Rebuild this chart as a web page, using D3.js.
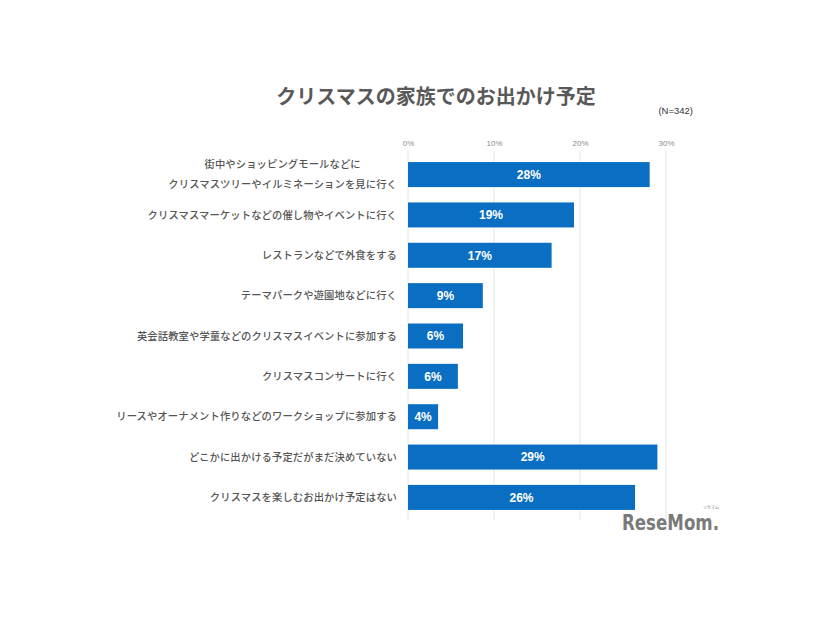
<!DOCTYPE html>
<html><head><meta charset="utf-8">
<script src="https://cdn.jsdelivr.net/npm/d3@7"></script>
<style>body{margin:0;background:#fff}svg{display:block}</style>
</head><body>
<script>
const categories = [
  ["街中やショッピングモールなどに","クリスマスツリーやイルミネーションを見に行く"],
  ["クリスマスマーケットなどの催し物やイベントに行く"],
  ["レストランなどで外食をする"],
  ["テーマパークや遊園地などに行く"],
  ["英会話教室や学童などのクリスマスイベントに参加する"],
  ["クリスマスコンサートに行く"],
  ["リースやオーナメント作りなどのワークショップに参加する"],
  ["どこかに出かける予定だがまだ決めていない"],
  ["クリスマスを楽しむお出かけ予定はない"]
];
const values = [28.1, 19.3, 16.7, 8.7, 6.4, 5.8, 3.5, 29.0, 26.4];
const valueLabels = ["28%","19%","17%","9%","6%","6%","4%","29%","26%"];
const tickValues = [0, 10, 20, 30];
const titleText = "クリスマスの家族でのお出かけ予定";
const noteText = "(N=342)";

const W = 826, H = 620;
const svg = d3.select("body").append("svg").attr("width", W).attr("height", H);
const font = "'Noto Sans CJK JP','Noto Sans',sans-serif";

const x = d3.scaleLinear().domain([0, 30]).range([408, 666]);
const y = d3.scaleBand().domain(d3.range(categories.length)).range([154, 518]).paddingInner(0.38).paddingOuter(0.2);

// gridlines
svg.append("g").selectAll("line").data(tickValues).join("line")
  .attr("x1", d => x(d)).attr("x2", d => x(d))
  .attr("y1", 151).attr("y2", 520)
  .attr("stroke", "#e6e6e6").attr("stroke-width", 1);

// top axis
const axis = svg.append("g").attr("transform", "translate(0,146)")
  .call(d3.axisTop(x).tickValues(tickValues).tickFormat(d => d + "%").tickSize(0).tickPadding(0));
axis.select(".domain").remove();
axis.selectAll("text").attr("font-family", "'Liberation Sans',Arial,sans-serif").attr("font-size", 8).attr("fill", "#8c8c8c");

// bars
svg.append("g").selectAll("rect").data(values).join("rect")
  .attr("x", x(0)).attr("y", (d, i) => y(i))
  .attr("width", d => x(d) - x(0)).attr("height", y.bandwidth())
  .attr("fill", "#0a6fc2");

// value labels
svg.append("g").selectAll("text").data(values).join("text")
  .attr("x", d => (x(0) + x(d)) / 2).attr("y", (d, i) => y(i) + y.bandwidth() / 2)
  .attr("dy", "0.36em").attr("text-anchor", "middle")
  .attr("font-family", "'Liberation Sans',Arial,sans-serif").attr("font-weight", "bold")
  .attr("font-size", 12).attr("fill", "#fff")
  .text((d, i) => valueLabels[i]);

// category labels
const labelRight = 397;
const lg = svg.append("g");
categories.forEach((lines, i) => {
  const cy = y(i) + y.bandwidth() / 2;
  const t = lg.append("text")
    .attr("font-family", font).attr("font-size", 10.3).attr("font-weight", 500)
    .attr("letter-spacing", 0.12)
    .attr("fill", "#555");
  if (lines.length === 1) {
    t.attr("x", labelRight).attr("y", cy).attr("dy", "0.35em").attr("text-anchor", "end").text(lines[0]);
  } else {
    const ts = lines.map((l, j) => t.append("tspan").attr("y", cy + (j - 0.5) * 20.5).attr("dy", "0.35em").text(l));
    const widths = ts.map(s => s.node().getComputedTextLength());
    const wmax = Math.max(...widths);
    const center = labelRight - wmax / 2;
    t.attr("text-anchor", "middle");
    ts.forEach(s => s.attr("x", center));
  }
});

// title
svg.append("text").attr("x", 436).attr("y", 104).attr("text-anchor", "middle")
  .attr("font-family", font).attr("font-weight", "bold").attr("font-size", 20)
  .attr("fill", "#595959").text(titleText);

svg.append("text").attr("x", 693).attr("y", 114).attr("text-anchor", "end")
  .attr("font-family", "'Liberation Sans',Arial,sans-serif").attr("font-size", 9.5)
  .attr("fill", "#333").text(noteText);

// watermark logo
svg.append("text").attr("x", 622).attr("y", 530)
  .attr("font-family", "'Liberation Sans Narrow','DejaVu Sans Condensed',sans-serif").attr("font-weight", "bold")
  .attr("font-size", 22).attr("fill", "#7a7a7a").attr("textLength", 97).attr("lengthAdjust", "spacingAndGlyphs")
  .text("ReseMom.");
svg.append("text").attr("x", 711).attr("y", 509).attr("text-anchor", "middle")
  .attr("font-family", font).attr("font-size", 4).attr("fill", "#888").text("リセマム");
</script>
</body></html>
